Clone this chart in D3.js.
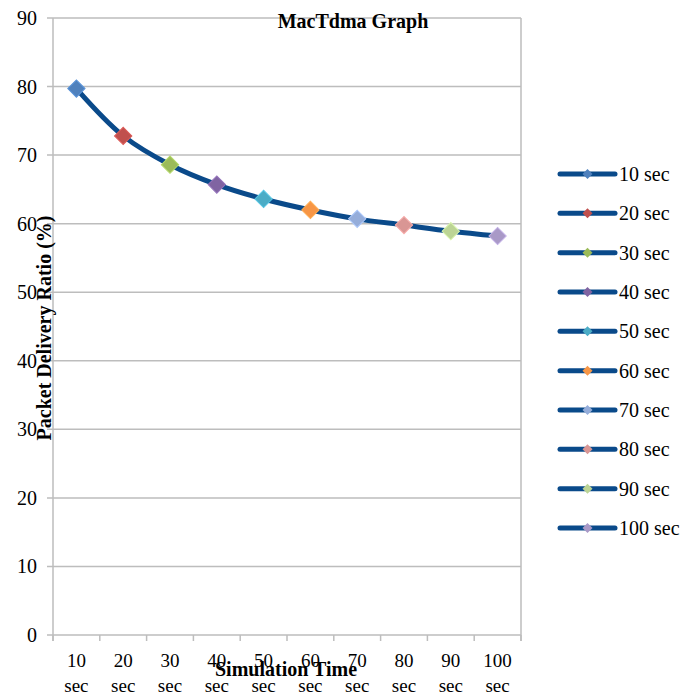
<!DOCTYPE html>
<html>
<head>
<meta charset="utf-8">
<script src="https://cdn.jsdelivr.net/npm/d3@7"></script>
</head>
<body style="margin:0">
<svg id="chart" width="698" height="695"></svg>
<script>
// Simulation times (categories) and packet delivery ratio (%) at each
const categories = ["10 sec", "20 sec", "30 sec", "40 sec", "50 sec", "60 sec", "70 sec", "80 sec", "90 sec", "100 sec"];
const pdr = [79.7, 72.8, 68.6, 65.7, 63.6, 62.0, 60.7, 59.8, 58.9, 58.2];
const markerColors = ["#4F81BD", "#C0504D", "#9BBB59", "#8064A2", "#4BACC6", "#F79646", "#95ADDA", "#D99694", "#BCD495", "#A999C7"];
const yTicks = [0, 10, 20, 30, 40, 50, 60, 70, 80, 90];

const svg = d3.select("#chart");
const plot = { left: 53, right: 521, top: 18, bottom: 635 };
const lineColor = "#0A4A8A";
const gridColor = "#BDBDBD";
const serif = "Times New Roman, Liberation Serif, Tinos, serif";

const x = d3.scaleBand().domain(categories).range([plot.left, plot.right]);
const y = d3.scaleLinear().domain([0, 90]).range([plot.bottom, plot.top]);

// Regular-weight serif label
function label(px, py, str, size, anchor) {
  return svg.append("text")
    .attr("x", px).attr("y", py)
    .attr("text-anchor", anchor)
    .style("font-family", serif)
    .style("font-weight", "400")
    .style("font-size", size + "px")
    .text(str);
}

// Horizontal gridlines and left tick marks
yTicks.forEach(t => {
  svg.append("line")
    .attr("x1", plot.left - 6).attr("x2", plot.right)
    .attr("y1", y(t)).attr("y2", y(t))
    .attr("stroke", gridColor).attr("stroke-width", 1.5);
});

// Plot frame: left, right edges
[plot.left, plot.right].forEach(px => {
  svg.append("line").attr("x1", px).attr("x2", px)
    .attr("y1", plot.top).attr("y2", plot.bottom + 6)
    .attr("stroke", gridColor).attr("stroke-width", 1.5);
});

// X tick marks at category boundaries
categories.map(c => x(c)).concat([plot.right]).forEach(px => {
  svg.append("line").attr("x1", px).attr("x2", px)
    .attr("y1", plot.bottom).attr("y2", plot.bottom + 6)
    .attr("stroke", gridColor).attr("stroke-width", 1.5);
});

// Y tick labels
yTicks.forEach(t => label(37, y(t) + 7, String(t), 20, "end"));

// X tick labels on two lines
categories.forEach(c => {
  const [num, unit] = c.split(" ");
  const cx = x(c) + x.bandwidth() / 2;
  label(cx, 667, num, 19, "middle");
  label(cx, 692, unit, 19, "middle");
});

// Smoothed data line
const pts = categories.map((c, i) => ({ c, v: pdr[i], color: markerColors[i] }));
const line = d3.line()
  .x(d => x(d.c) + x.bandwidth() / 2)
  .y(d => y(d.v))
  .curve(d3.curveCatmullRom.alpha(0.5));
svg.append("path").datum(pts)
  .attr("d", line)
  .attr("fill", "none")
  .attr("stroke", lineColor)
  .attr("stroke-width", 5)
  .attr("stroke-linecap", "round");

// Diamond markers
const diamond = d3.symbol().type(d3.symbolSquare).size(150);
pts.forEach(d => {
  svg.append("path")
    .attr("d", diamond)
    .attr("transform", `translate(${x(d.c) + x.bandwidth() / 2},${y(d.v)}) rotate(45)`)
    .attr("fill", d.color)
    .attr("stroke", d3.color(d.color).brighter(0.4))
    .attr("stroke-width", 1);
});

// Titles
svg.append("text").attr("x", 353).attr("y", 28)
  .attr("text-anchor", "middle").attr("font-weight", "bold")
  .attr("font-size", 20).attr("font-family", "Liberation Serif")
  .text("MacTdma Graph");
svg.append("text").attr("x", 286).attr("y", 676)
  .attr("text-anchor", "middle").attr("font-weight", "bold")
  .attr("font-size", 20).attr("font-family", "Liberation Serif")
  .text("Simulation Time");
svg.append("text")
  .attr("transform", "translate(51,328) rotate(-90)")
  .attr("text-anchor", "middle").attr("font-weight", "bold")
  .attr("font-size", 20).attr("font-family", "Liberation Serif")
  .text("Packet Delivery Ratio (%)");

// Legend
const legendY = d3.scalePoint().domain(categories).range([174, 528]);
pts.forEach(d => {
  const ly = legendY(d.c);
  svg.append("line").attr("x1", 560).attr("x2", 615).attr("y1", ly).attr("y2", ly)
    .attr("stroke", lineColor).attr("stroke-width", 5).attr("stroke-linecap", "round");
  svg.append("path")
    .attr("d", d3.symbol().type(d3.symbolSquare).size(50))
    .attr("transform", `translate(587.5,${ly}) rotate(45)`)
    .attr("fill", d.color);
  label(619, ly + 7, d.c, 20, "start");
});
</script>
</body>
</html>
